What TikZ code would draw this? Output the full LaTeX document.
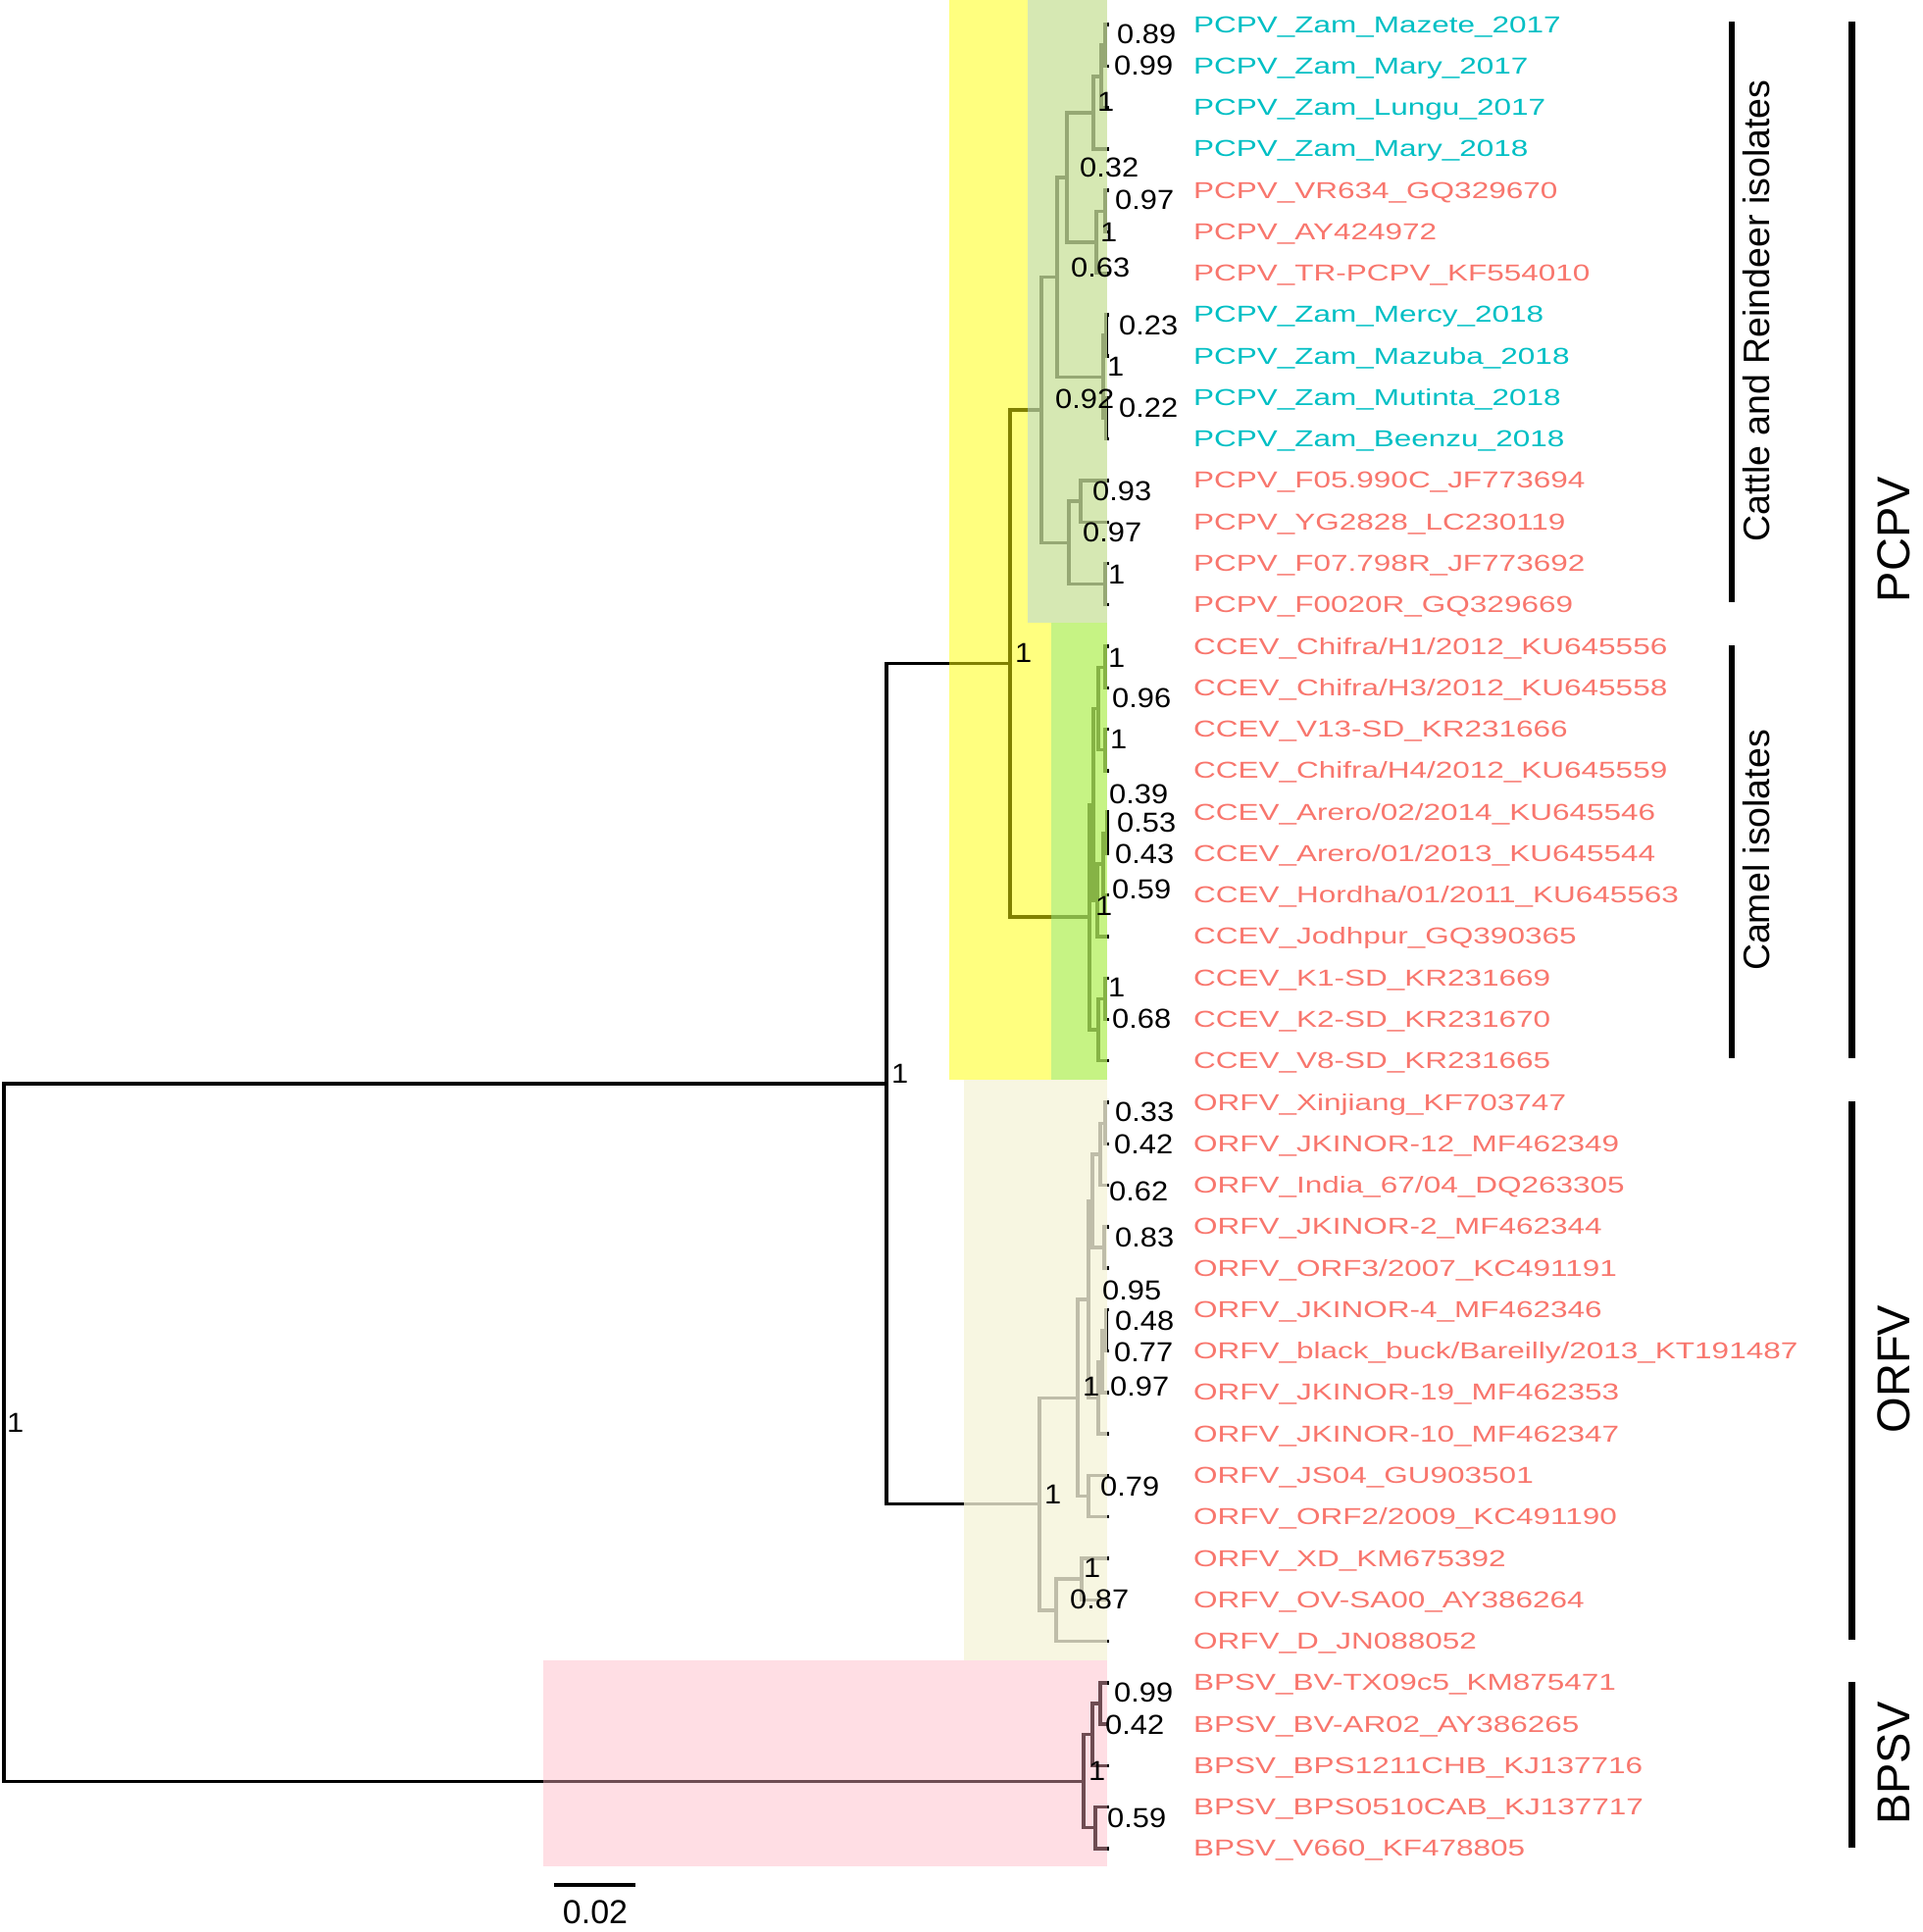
\documentclass[tikz,border=0pt]{standalone}
\usepackage{fontspec}
\setmainfont{Liberation Sans}
\newfontfamily\tipfont[FakeStretch=1.34]{Liberation Sans}
\newfontfamily\bsfont[FakeStretch=1.1]{Liberation Sans}
\usepackage{tikz}
\usetikzlibrary{calc}
\definecolor{zamcol}{RGB}{0,191,196}
\definecolor{refcol}{RGB}{248,118,109}
\definecolor{hlyellow}{RGB}{255,255,0}
\definecolor{hlcattle}{RGB}{173,209,232}
\definecolor{hlcamel}{RGB}{141,231,138}
\definecolor{hlorfv}{RGB}{245,243,217}
\definecolor{hlbpsv}{RGB}{255,178,192}

\begin{document}
\begin{tikzpicture}[x=1pt,y=-1pt,
  branch/.style={line width=3.4pt},
  tiplabel/.style={anchor=base west,inner sep=0pt,font=\tipfont\fontsize{23.5}{28}\selectfont},
  bs/.style={anchor=west,inner sep=0pt,font=\bsfont\fontsize{28}{32}\selectfont},
  cladebar/.style={line width=7pt},
  subbar/.style={line width=5.5pt},
  cladelabel/.style={rotate=90,anchor=base,inner sep=0pt}]
\useasboundingbox (0,0) rectangle (1960,1970);

% tips
\foreach \i in {0,...,44}
  \coordinate (t\i) at (1131,{25+42.27*\i});

% internal nodes
\coordinate (c1) at (1127,46.1);
\coordinate (c2) at (1123,77.8);
\coordinate (c3) at (1115,114.8);
\coordinate (c4) at (1127,215.2);
\coordinate (c5) at (1118,246.9);
\coordinate (c6) at (1088,180.9);
\coordinate (c7) at (1128,342.0);
\coordinate (c8) at (1128,426.6);
\coordinate (c9) at (1125,384.3);
\coordinate (c10) at (1078,282.6);
\coordinate (c11) at (1102,511.1);
\coordinate (c12) at (1127,595.6);
\coordinate (c13) at (1090,553.4);
\coordinate (nC) at (1062,418.0);
\coordinate (m1) at (1127,680.2);
\coordinate (m2) at (1127,764.7);
\coordinate (m3) at (1120,722.5);
\coordinate (m4) at (1129,849.3);
\coordinate (m5) at (1125,881.0);
\coordinate (m6) at (1119,918.0);
\coordinate (m7) at (1115,820.2);
\coordinate (m8) at (1127,1018.3);
\coordinate (m9) at (1120,1050.0);
\coordinate (nD) at (1111,935.1);
\coordinate (nB) at (1030,676.6);
\coordinate (o1) at (1127,1145.2);
\coordinate (o2) at (1122,1176.9);
\coordinate (o3) at (1126,1272.0);
\coordinate (o4) at (1114,1224.4);
\coordinate (o5) at (1128,1356.5);
\coordinate (o6) at (1124,1388.2);
\coordinate (o7) at (1120,1425.2);
\coordinate (o8) at (1110,1324.8);
\coordinate (o9) at (1110,1525.6);
\coordinate (o10) at (1099,1425.2);
\coordinate (o11) at (1103,1610.1);
\coordinate (o12) at (1077,1641.8);
\coordinate (nE) at (1060,1533.5);
\coordinate (nA) at (904,1105.1);
\coordinate (b1) at (1122,1736.9);
\coordinate (b2) at (1114,1768.6);
\coordinate (b3) at (1117,1863.7);
\coordinate (nH) at (1105,1816.2);
\coordinate (root) at (4,1460.6);

% branches
\foreach \p/\c in {root/nA,root/nH,nA/nB,nA/nE,nB/nC,nB/nD,
  nC/c10,nC/c13,c10/c6,c10/c9,c6/c3,c6/c5,c3/c2,c3/t3,c2/c1,c2/t2,c1/t0,c1/t1,
  c5/c4,c5/t6,c4/t4,c4/t5,c9/c7,c9/c8,c7/t7,c7/t8,c8/t9,c8/t10,
  c13/c11,c13/c12,c11/t11,c11/t12,c12/t13,c12/t14,
  nD/m7,nD/m9,m7/m3,m7/m6,m3/m1,m3/m2,m1/t15,m1/t16,m2/t17,m2/t18,
  m6/m5,m6/t22,m5/m4,m5/t21,m4/t19,m4/t20,m9/m8,m9/t25,m8/t23,m8/t24,
  nE/o10,nE/o12,o10/o8,o10/o9,o8/o4,o8/o7,o4/o2,o4/o3,o2/o1,o2/t28,o1/t26,o1/t27,
  o3/t29,o3/t30,o7/o6,o7/t34,o6/o5,o6/t33,o5/t31,o5/t32,o9/t35,o9/t36,
  o12/o11,o12/t39,o11/t37,o11/t38,
  nH/b2,nH/b3,b2/b1,b2/t42,b1/t40,b1/t41,b3/t43,b3/t44}
  \draw[branch] (\p) |- (\c);

% clade highlights
\fill[hlyellow,fill opacity=.5] (968,0) rectangle (1129,1101);
\fill[hlcattle,fill opacity=.5] (1048,0) rectangle (1129,635);
\fill[hlcamel,fill opacity=.5] (1072,635) rectangle (1129,1101);
\fill[hlorfv,fill opacity=.78] (983,1101) rectangle (1129,1693);
\fill[hlbpsv,fill opacity=.43] (554,1693) rectangle (1129,1903);

% posterior values
\foreach \x/\y/\v [count=\k] in {1139/35/0.89,1136/67/0.99,1119/104/1,1101/171/0.32,
  1137/204/0.97,1122/237/1,1092/273/0.63,1141/332/0.23,1129/374/1,1076/407/0.92,
  1141/416/0.22,1114/501/0.93,1104/543/0.97,1130/586/1,1035/666/1,
  1130/671/1,1134/712/0.96,1132/754/1,1131/810/0.39,1139/839/0.53,1137/871/0.43,
  1134/907/0.59,1117/924/1,1130/1007/1,1134/1039/0.68,909/1095/1,7/1451/1,
  1137/1134/0.33,1136/1167/0.42,1131/1215/0.62,1137/1262/0.83,1124/1316/0.95,
  1137/1347/0.48,1136/1379/0.77,1104/1414/1,1132/1414/0.97,1122/1516/0.79,
  1065/1524/1,1105/1599/1,1091/1631/0.87,
  1136/1726/0.99,1127/1759/0.42,1110/1806/1,1129/1854/0.59}
  \node[bs] (bs\k) at (\x,\y) {\v};

% taxa
\foreach \c/\n [count=\i from 0] in {
  zamcol/{PCPV\_Zam\_Mazete\_2017},zamcol/{PCPV\_Zam\_Mary\_2017},
  zamcol/{PCPV\_Zam\_Lungu\_2017},zamcol/{PCPV\_Zam\_Mary\_2018},
  refcol/{PCPV\_VR634\_GQ329670},refcol/{PCPV\_AY424972},
  refcol/{PCPV\_TR-PCPV\_KF554010},zamcol/{PCPV\_Zam\_Mercy\_2018},
  zamcol/{PCPV\_Zam\_Mazuba\_2018},zamcol/{PCPV\_Zam\_Mutinta\_2018},
  zamcol/{PCPV\_Zam\_Beenzu\_2018},refcol/{PCPV\_F05.990C\_JF773694},
  refcol/{PCPV\_YG2828\_LC230119},refcol/{PCPV\_F07.798R\_JF773692},
  refcol/{PCPV\_F0020R\_GQ329669},
  refcol/{CCEV\_Chifra/H1/2012\_KU645556},refcol/{CCEV\_Chifra/H3/2012\_KU645558},
  refcol/{CCEV\_V13-SD\_KR231666},refcol/{CCEV\_Chifra/H4/2012\_KU645559},
  refcol/{CCEV\_Arero/02/2014\_KU645546},refcol/{CCEV\_Arero/01/2013\_KU645544},
  refcol/{CCEV\_Hordha/01/2011\_KU645563},refcol/{CCEV\_Jodhpur\_GQ390365},
  refcol/{CCEV\_K1-SD\_KR231669},refcol/{CCEV\_K2-SD\_KR231670},
  refcol/{CCEV\_V8-SD\_KR231665},
  refcol/{ORFV\_Xinjiang\_KF703747},refcol/{ORFV\_JKINOR-12\_MF462349},
  refcol/{ORFV\_India\_67/04\_DQ263305},refcol/{ORFV\_JKINOR-2\_MF462344},
  refcol/{ORFV\_ORF3/2007\_KC491191},refcol/{ORFV\_JKINOR-4\_MF462346},
  refcol/{ORFV\_black\_buck/Bareilly/2013\_KT191487},refcol/{ORFV\_JKINOR-19\_MF462353},
  refcol/{ORFV\_JKINOR-10\_MF462347},refcol/{ORFV\_JS04\_GU903501},
  refcol/{ORFV\_ORF2/2009\_KC491190},refcol/{ORFV\_XD\_KM675392},
  refcol/{ORFV\_OV-SA00\_AY386264},refcol/{ORFV\_D\_JN088052},
  refcol/{BPSV\_BV-TX09c5\_KM875471},refcol/{BPSV\_BV-AR02\_AY386265},
  refcol/{BPSV\_BPS1211CHB\_KJ137716},refcol/{BPSV\_BPS0510CAB\_KJ137717},
  refcol/{BPSV\_V660\_KF478805}}
  \node[tiplabel,text=\c] (l\i) at (1217,{33+42.27*\i}) {\n};

% clade bars
\draw[subbar] (1766,22) -- (1766,614);
\draw[subbar] (1766,658) -- (1766,1079);
\draw[cladebar] (1888,22) -- (1888,1079);
\draw[cladebar] (1888,1123) -- (1888,1672);
\draw[cladebar] (1888,1715) -- (1888,1884);
\node[cladelabel,font=\fontsize{37.5}{40}\selectfont] (crlab) at (1804,317) {Cattle and Reindeer isolates};
\node[cladelabel,font=\fontsize{37.5}{40}\selectfont] (camlab) at (1804,867) {Camel isolates};
\node[cladelabel,font=\fontsize{47}{50}\selectfont] (pcpvlab) at (1947,550) {PCPV};
\node[cladelabel,font=\fontsize{47}{50}\selectfont] (orfvlab) at (1947,1396) {ORFV};
\node[cladelabel,font=\fontsize{47}{50}\selectfont] (bpsvlab) at (1947,1798) {BPSV};

% scale
\coordinate (sb0) at (565,1922);
\coordinate (sb1) at (648,1922);
\draw[line width=4pt] (sb0) -- (sb1);
\node[inner sep=0pt,font=\fontsize{34}{36}\selectfont] (sblab) at (607,1950) {0.02};
\end{tikzpicture}
\end{document}
